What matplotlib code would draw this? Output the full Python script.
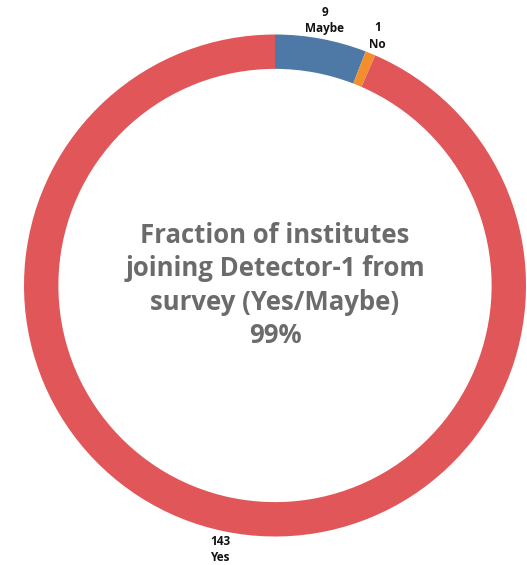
import numpy as np
import matplotlib.pyplot as plt

categories = ['Maybe', 'No', 'Yes']
counts = [9, 1, 143]
colors = ['#4E79A7', '#F28E2B', '#E15759']
center_text = 'Fraction of institutes\njoining Detector-1 from\nsurvey (Yes/Maybe)\n99%'

W, H = 527, 565
fig = plt.figure(figsize=(W / 100, H / 100), dpi=100)
# place the donut: center (275, 285.5) px from top, radius 251 px
cx, cy, r = 275, 285.5, 251
ax = fig.add_axes([(cx - r) / W, (H - cy - r) / H, 2 * r / W, 2 * r / H])

wedges, _ = ax.pie(counts, colors=colors, startangle=90, counterclock=False,
                   radius=1, wedgeprops=dict(width=0.137, linewidth=0))

for w, cat, n in zip(wedges, categories, counts):
    ang = np.deg2rad((w.theta1 + w.theta2) / 2)
    ax.text(1.075 * np.cos(ang), 1.075 * np.sin(ang), f'{n}\n{cat}',
            ha='center', va='center', fontsize=8.5, fontweight='bold',
            family='Open Sans', linespacing=1.35, color='#111111')

ax.text(0, 0, center_text, ha='center', va='center', fontsize=18.5,
        fontweight='bold', family='Open Sans', color='#6b6b6b', linespacing=1.31)

ax.set_xlim(-1, 1)
ax.set_ylim(-1, 1)
ax.set_aspect('equal')
ax.axis('off')

plt.savefig('out.png', dpi=100)
